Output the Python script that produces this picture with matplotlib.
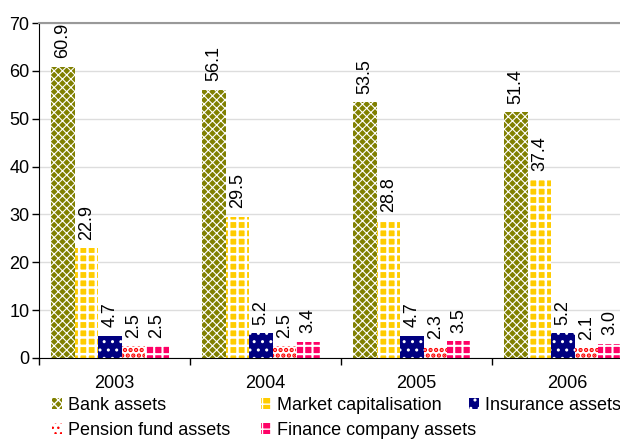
import numpy as np
import matplotlib
matplotlib.use('Agg')
import matplotlib.pyplot as plt

plt.rcParams['font.family'] = ['Liberation Sans', 'DejaVu Sans']
plt.rcParams['font.size'] = 13

years = ['2003', '2004', '2005', '2006']
series = ['Bank assets', 'Market capitalisation', 'Insurance assets',
          'Pension fund assets', 'Finance company assets']
bank = [60.9, 56.1, 53.5, 51.4]
market = [22.9, 29.5, 28.8, 37.4]
insurance = [4.7, 5.2, 4.7, 5.2]
pension = [2.5, 2.5, 2.3, 2.1]
finance = [2.5, 3.4, 3.5, 3.0]
values = [bank, market, insurance, pension, finance]

# face colour, hatch colour, hatch, hatch line width
styles = [
    ('#808000', 'white', 'xxxx', 0.8),
    ('#FFCC00', 'white', '++', 1.8),
    ('#000080', 'white', '..', 1.0),
    ('white', '#FF0000', '...', 2.2),
    ('#FF0066', 'white', '++', 1.5),
]

fig = plt.figure(figsize=(6.2, 4.43), dpi=100)
ax = fig.add_axes([39 / 620, 1 - 358 / 443, 604 / 620, 335 / 443])

x = np.arange(len(years))
w = 0.156
handles = []
for i, (vals, name, st) in enumerate(zip(values, series, styles)):
    face, hcol, hatch, hlw = st
    with plt.rc_context({'hatch.linewidth': hlw}):
        bars = ax.bar(x + (i - 2) * w - 0.03, vals, w, color=face,
                      edgecolor=hcol, hatch=hatch, linewidth=0, label=name)
    handles.append(bars)
    for b, v in zip(bars, vals):
        ax.annotate(f'{v:.1f}', (b.get_x() + b.get_width() / 2, v),
                    xytext=(0, 6), textcoords='offset points',
                    ha='center', va='bottom', rotation=90, fontsize=13)

ax.set_xlim(-0.5, 3.5)
ax.set_ylim(0, 70)
ax.set_yticks(range(0, 71, 10))
ax.yaxis.grid(True, color='#dddddd', lw=1)
ax.set_axisbelow(True)
ax.tick_params(axis='y', length=5, pad=2, width=1)
ax.set_xticks(x)
ax.set_xticklabels(years)
ax.set_xticks(np.arange(-0.5, 4, 1), minor=True)
ax.tick_params(axis='x', which='major', length=0, pad=12)
ax.tick_params(axis='x', which='minor', length=5, width=1)
ax.spines['right'].set_visible(False)
ax.spines['top'].set_color('#999999')
ax.spines['top'].set_linewidth(1.5)

# legend columns placed like the original
cols = [([0, 3], 52), ([1, 4], 261), ([2], 469)]
for idx, px in cols:
    leg = fig.legend([handles[k] for k in idx], [series[k] for k in idx],
                     loc='upper left', bbox_to_anchor=(px / 620, 1 - 397 / 443),
                     frameon=False, borderpad=0, borderaxespad=0,
                     handlelength=0.55, handleheight=0.6, handletextpad=0.35,
                     labelspacing=0.45, fontsize=13)

fig.savefig('out.png', dpi=100)
